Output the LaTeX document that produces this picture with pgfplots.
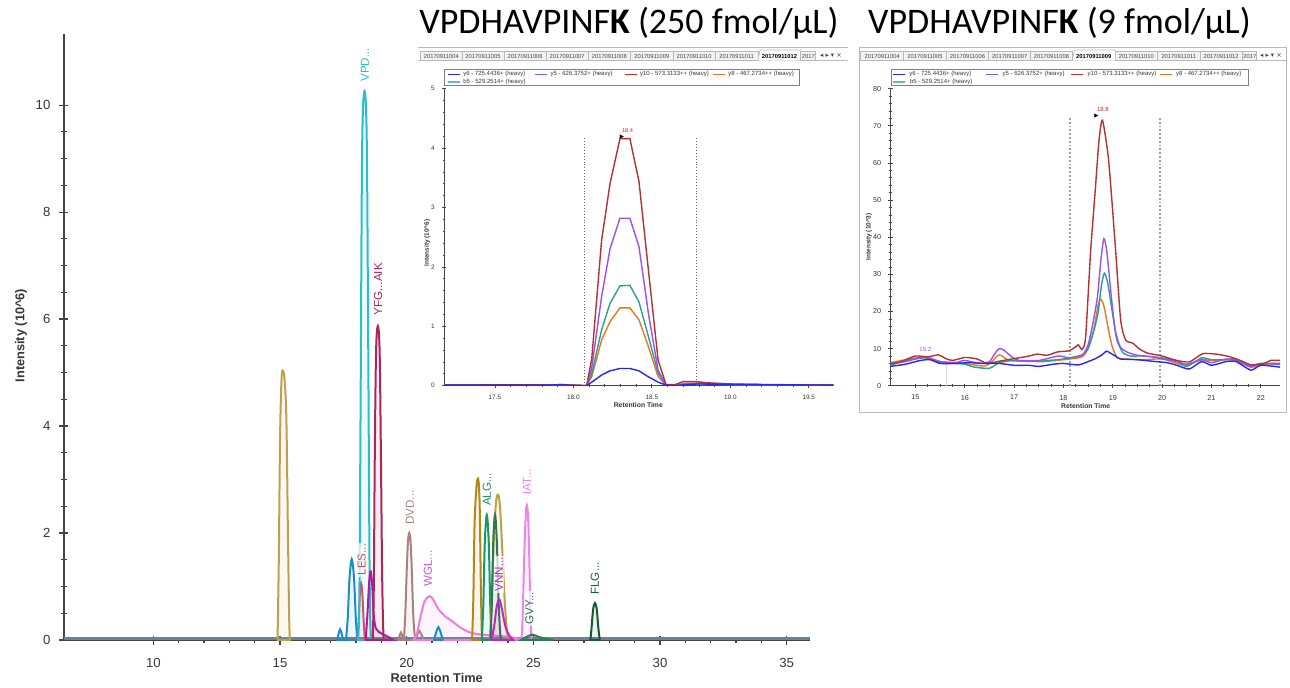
\documentclass[border=0pt]{standalone}
\usepackage{fontspec}
\setmainfont{Liberation Sans}
\newfontfamily\titlefont{Carlito}
\newfontfamily\symfont{DejaVu Sans}
\usepackage{pgfplots}
\pgfplotsset{compat=1.18}

\newcommand{\fs}[1]{\fontsize{#1}{#1}\selectfont}

% main chart colours
\definecolor{axisgray}{RGB}{70,70,70}
\definecolor{labelgray}{RGB}{55,55,55}
\definecolor{basecol}{RGB}{110,130,150}
\definecolor{cVPD}{RGB}{40,190,205}
\definecolor{cYFG}{RGB}{168,40,90}
\definecolor{cLES}{RGB}{210,80,90}
\definecolor{cMag}{RGB}{180,24,158}
\definecolor{cBlue}{RGB}{30,140,200}
\definecolor{cDVD}{RGB}{168,130,130}
\definecolor{cWGL}{RGB}{245,122,223}
\definecolor{cWGLt}{RGB}{210,90,192}
\definecolor{cGold}{RGB}{190,160,80}
\definecolor{cGold2}{RGB}{184,134,20}
\definecolor{cALG}{RGB}{30,150,100}
\definecolor{cGreen}{RGB}{45,120,80}
\definecolor{cKhaki}{RGB}{190,160,70}
\definecolor{cVNN}{RGB}{190,40,190}
\definecolor{cIAT}{RGB}{238,130,238}
\definecolor{cGVY}{RGB}{46,125,79}
\definecolor{cFLG}{RGB}{20,90,50}
% inset colours
\definecolor{iBlue}{RGB}{40,40,240}
\definecolor{iPurple}{RGB}{155,80,240}
\definecolor{iRed}{RGB}{180,50,50}
\definecolor{iOrange}{RGB}{230,120,40}
\definecolor{iTeal}{RGB}{40,160,150}
\definecolor{tabline}{RGB}{185,185,185}
\definecolor{tabfill}{RGB}{242,242,242}
\definecolor{tabtext}{RGB}{70,70,70}

\tikzset{
  lab/.style={rotate=90, anchor=west, font=\fs{5.8}, text=#1, inner sep=0.6pt,
    fill=white, fill opacity=0.7, text opacity=1},
}
\pgfplotsset{
  pk/.style={draw=#1, fill=#1, fill opacity=0.08, line width=1.0pt, smooth, tension=0.55},
  inset/.style={
    anchor=south west, scale only axis,
    axis x line=bottom, axis y line=left,
    axis line style={-, draw=axisgray, line width=0.45pt},
    tick align=center, major tick length=2.2pt, minor tick length=1.3pt,
    tick style={axisgray, line width=0.35pt},
    /pgf/number format/assume math mode=true,
    clip mode=individual,
  },
}

\begin{document}
\begin{tikzpicture}[x=0.5pt,y=-0.5pt]
\path[use as bounding box] (0,0) rectangle (1290,687);

% ---------------- main chromatogram ----------------
\begin{axis}[
  at={(32pt,-320pt)}, anchor=south west, scale only axis,
  width=373pt, height=303pt,
  xmin=6.47, xmax=35.92, ymin=0, ymax=11.33,
  axis x line=bottom, axis y line=left,
  axis line style={-, draw=axisgray, line width=0.7pt},
  xtick={10,15,...,35}, ytick={0,2,...,10},
  minor x tick num=4, minor y tick num=3,
  tick align=center, major tick length=4.5pt, minor tick length=3pt,
  tick style={axisgray, line width=0.6pt},
  tick label style={font=\fs{6.6}, text=labelgray},
  xticklabel style={yshift=-3.5pt},
  yticklabel style={xshift=-1pt},
  /pgf/number format/assume math mode=true,
  clip mode=individual,
]
\addplot[basecol, line width=1.4pt] coordinates {(6.47,0.03) (35.92,0.03)};

\addplot[pk=cGold] coordinates {(14.90,0) (14.95,1.5) (15.0,3.8) (15.06,4.9) (15.12,5.03) (15.18,4.85) (15.25,4.1) (15.31,2.0) (15.36,0.4) (15.39,0)} \closedcycle;
\addplot[pk=cBlue] coordinates {(17.25,0) (17.31,0.12) (17.37,0.2) (17.43,0.12) (17.49,0)} \closedcycle;
\addplot[pk=cBlue] coordinates {(17.6,0) (17.67,0.4) (17.74,1.15) (17.83,1.51) (17.92,1.15) (17.99,0.4) (18.05,0)} \closedcycle;
\addplot[pk=cLES] coordinates {(18.05,0) (18.1,0.35) (18.15,0.85) (18.2,1.06) (18.25,0.85) (18.3,0.35) (18.35,0)} \closedcycle;
\addplot[pk=cVPD] coordinates {(18.08,0) (18.13,0.8) (18.18,4.5) (18.24,9.2) (18.33,10.26) (18.42,9.4) (18.48,5.5) (18.53,1.5) (18.57,0.2) (18.62,0)} \closedcycle;
\addplot[pk=cMag] coordinates {(18.38,0) (18.45,0.5) (18.52,1.1) (18.58,1.28) (18.64,1.0) (18.7,0.45) (18.78,0.22) (18.9,0.15) (19.1,0.1) (19.3,0.05) (19.45,0)} \closedcycle;
\addplot[pk=cYFG] coordinates {(18.66,0) (18.7,1.0) (18.74,3.5) (18.79,5.4) (18.86,5.87) (18.93,5.4) (18.98,3.5) (19.03,1.2) (19.08,0.1) (19.12,0)} \closedcycle;
\addplot[pk=cDVD] coordinates {(19.65,0) (19.72,0.08) (19.77,0.14) (19.82,0.08) (19.88,0) (19.94,0.45) (20.0,1.3) (20.05,1.85) (20.1,2.0) (20.15,1.85) (20.2,1.3) (20.26,0.45) (20.33,0.05) (20.42,0.1) (20.5,0.17) (20.58,0.1) (20.68,0)} \closedcycle;
\addplot[pk=cWGL] coordinates {(20.25,0) (20.4,0.12) (20.55,0.45) (20.7,0.72) (20.9,0.82) (21.05,0.75) (21.25,0.58) (21.5,0.45) (21.8,0.35) (22.1,0.24) (22.5,0.14) (23.0,0.1) (23.5,0.08) (24.0,0.06) (24.4,0.03) (24.6,0)} \closedcycle;
\addplot[pk=cBlue] coordinates {(21.08,0) (21.16,0.14) (21.25,0.24) (21.34,0.14) (21.42,0)} \closedcycle;
\addplot[pk=cGold2] coordinates {(22.58,0) (22.63,0.8) (22.68,2.2) (22.76,2.9) (22.83,2.99) (22.88,2.5) (22.92,1.2) (22.96,0.2) (22.99,0)} \closedcycle;
\addplot[pk=cALG] coordinates {(22.96,0) (23.02,0.6) (23.08,1.8) (23.16,2.34) (23.24,1.8) (23.3,0.6) (23.36,0)} \closedcycle;
\addplot[pk=cKhaki] coordinates {(23.28,0) (23.35,0.6) (23.43,1.8) (23.52,2.55) (23.6,2.72) (23.68,2.5) (23.77,1.7) (23.86,0.8) (23.95,0.2) (24.02,0)} \closedcycle;
\addplot[pk=cGreen] coordinates {(23.3,0) (23.36,0.7) (23.42,1.9) (23.49,2.34) (23.56,1.8) (23.62,0.8) (23.68,0.2) (23.72,0)} \closedcycle;
\addplot[pk=cVNN] coordinates {(23.35,0) (23.45,0.25) (23.55,0.62) (23.65,0.76) (23.75,0.6) (23.85,0.35) (23.95,0.17) (24.1,0.05) (24.2,0)} \closedcycle;
\addplot[pk=cIAT] coordinates {(24.53,0) (24.58,0.5) (24.64,1.6) (24.7,2.35) (24.74,2.52) (24.79,2.3) (24.84,1.5) (24.88,0.5) (24.92,0)} \closedcycle;
\addplot[pk=cGVY] coordinates {(24.5,0) (24.7,0.05) (24.95,0.1) (25.2,0.06) (25.5,0.02) (25.8,0)} \closedcycle;
\addplot[pk=cFLG] coordinates {(27.25,0) (27.3,0.25) (27.36,0.58) (27.43,0.69) (27.5,0.58) (27.56,0.25) (27.62,0)} \closedcycle;

\node[lab=cVPD] at (axis cs:18.35,10.41) {VPD...};
\node[lab=cYFG] at (axis cs:18.87,6.04) {YFG...AIK};
\node[lab=cLES] at (axis cs:18.22,1.18) {LES...};
\node[lab=cDVD] at (axis cs:20.12,2.13) {DVD...};
\node[lab=cWGLt] at (axis cs:20.83,0.97) {WGL...};
\node[lab=cALG] at (axis cs:23.16,2.48) {ALG...};
\node[lab=cVNN] at (axis cs:23.64,0.88) {VNN...};
\node[lab=cIAT] at (axis cs:24.74,2.69) {IAT...};
\node[lab=cGVY] at (axis cs:24.84,0.26) {GVY...};
\node[lab=cFLG] at (axis cs:27.43,0.82) {FLG...};
\end{axis}

\node[rotate=90, font=\bfseries\fs{6.4}, text=labelgray] at (21,335.5) {Intensity (10\textasciicircum 6)};
\node[font=\bfseries\fs{6.4}, text=labelgray] at (436.7,678.3) {Retention Time};

% ---------------- titles ----------------
\node[anchor=base, font=\titlefont\fs{18}] at (629,33.5) {VPDHAVPINF\textbf{K} (250 fmol/µL)};
\node[anchor=base, font=\titlefont\fs{18}] at (1059.5,33.5) {VPDHAVPINF\textbf{K} (9 fmol/µL)};

% ---------------- inset 1 panel ----------------
\fill[white] (418,45) rectangle (848,420);
\draw[tabline, line width=0.4pt] (418,47.3) -- (848,47.3);
\draw[tabline, line width=0.4pt] (418,60.7) -- (848,60.7);
\foreach \a/\b/\lab in {420.7/462/004, 462/504/005, 504/546.3/006, 546.3/588/007,
    588/630.7/008, 630.7/673/009, 673/715.3/010, 715.3/758/011} {
  \draw[tabline, fill=tabfill, line width=0.3pt] (\a,51) rectangle (\b,60.7);
  \node[font=\fs{2.9}, text=tabtext, inner sep=0pt] at ({(\a+\b)/2},56) {20170911\lab};
}
\draw[tabline, fill=white, line width=0.3pt] (758,60.7) -- (760,50) -- (800.3,50) -- (800.3,60.7);
\node[font=\bfseries\fs{2.9}, inner sep=0pt] at (779.5,56) {20170911012};
\draw[tabline, fill=tabfill, line width=0.3pt] (800.3,51) rectangle (815,60.7);
\node[font=\fs{2.9}, text=tabtext, inner sep=0pt, anchor=west] at (801.5,56) {2017};
\node[font=\symfont\fs{3.3}, text=tabtext, inner sep=0pt] at (831,55.5) {◂ ▸ ▾ ×};
% legend
\draw[gray, line width=0.4pt, fill=white] (444.7,69.3) rectangle (799.7,85.7);
\foreach \xa/\col/\txt in {448/iBlue/{y6 - 725.4436+ (heavy)}, 535.3/iPurple/{y5 - 626.3752+ (heavy)},
    624.7/iRed/{y10 - 573.3133++ (heavy)}, 713/iOrange/{y8 - 467.2734++ (heavy)}} {
  \draw[\col, line width=0.8pt] (\xa,74.3) -- ++(12,0);
  \node[font=\fs{3}, anchor=west, inner sep=0pt, text=labelgray] at ({\xa+15},74.3) {\txt};
}
\draw[iTeal!70, line width=0.8pt] (448,81.7) -- ++(12,0);
\node[font=\fs{3}, anchor=west, inner sep=0pt, text=labelgray] at (463,81.7) {b5 - 529.2514+ (heavy)};

\begin{axis}[inset,
  at={(222pt,-192.85pt)}, width=194.65pt, height=148.5pt,
  xmin=17.176, xmax=19.656, ymin=0, ymax=5,
  xtick={17.5,18,...,19.5}, ytick={0,1,...,5},
  minor x tick num=4, minor y tick num=4,
  tick label style={font=\fs{3.2}, text=labelgray},
  xticklabel style={/pgf/number format/.cd, fixed, fixed zerofill, precision=1},
]
\addplot[gray!80!black, densely dotted, line width=0.45pt] coordinates {(18.07,0) (18.07,4.17)};
\addplot[gray!80!black, densely dotted, line width=0.45pt] coordinates {(18.785,0) (18.785,4.17)};
\addplot[iOrange, line width=0.7pt] coordinates {(17.176,0.01) (17.6,0.01) (18.0,0.01) (18.085,0) (18.117,0.15) (18.18,0.77) (18.234,1.08) (18.297,1.31) (18.36,1.31) (18.418,1.11) (18.478,0.66) (18.54,0.15) (18.59,0.01) (18.65,0.01) (18.72,0.04) (18.8,0.04) (19.0,0.02) (19.656,0.01)};
\addplot[iTeal, line width=0.7pt] coordinates {(17.176,0.01) (17.85,0.01) (17.92,0.02) (18.0,0.01) (18.085,0) (18.117,0.2) (18.18,0.94) (18.234,1.39) (18.297,1.68) (18.36,1.69) (18.418,1.41) (18.478,0.83) (18.54,0.21) (18.59,0.01) (18.65,0.01) (18.72,0.03) (18.8,0.03) (19.0,0.02) (19.656,0.01)};
\addplot[iPurple, line width=0.7pt] coordinates {(17.176,0.01) (18.0,0.01) (18.085,0) (18.117,0.3) (18.18,1.5) (18.234,2.31) (18.297,2.82) (18.36,2.82) (18.418,2.34) (18.478,1.22) (18.54,0.26) (18.59,0.01) (18.65,0.01) (18.72,0.03) (18.8,0.04) (19.0,0.02) (19.656,0.01)};
\addplot[iRed, line width=0.7pt] coordinates {(17.176,0.01) (17.6,0.015) (18.0,0.01) (18.085,0) (18.117,0.45) (18.18,2.45) (18.234,3.41) (18.297,4.16) (18.36,4.16) (18.418,3.44) (18.478,1.95) (18.54,0.43) (18.59,0.02) (18.65,0.02) (18.7,0.07) (18.78,0.07) (18.85,0.05) (19.0,0.03) (19.2,0.02) (19.656,0.01)};
\addplot[iBlue, line width=0.7pt] coordinates {(17.176,0.01) (17.85,0.01) (17.93,0.02) (18.0,0) (18.085,0) (18.117,0.06) (18.18,0.18) (18.234,0.25) (18.297,0.29) (18.36,0.29) (18.418,0.25) (18.478,0.15) (18.54,0.06) (18.59,0.01) (18.65,0) (18.72,0.02) (18.8,0.03) (19.0,0.02) (19.656,0.01)};
\node[font=\fs{2.8}, text=iRed, inner sep=0pt] at (axis cs:18.345,4.3) {18.4};
\node[font=\symfont\fs{2.8}, inner sep=0pt] at (axis cs:18.31,4.19) {▶};
\end{axis}
\node[rotate=90, font=\bfseries\fs{3.2}, text=labelgray] at (427.3,243) {Intensity (10\textasciicircum 6)};
\node[font=\bfseries\fs{3.4}, text=labelgray] at (638.3,405) {Retention Time};

% ---------------- inset 2 panel ----------------
\draw[tabline, fill=white, line width=0.5pt] (859.5,47.3) rectangle (1286,412.3);
\draw[tabline, line width=0.4pt] (859.5,60.7) -- (1286,60.7);
\foreach \a/\b/\lab in {860.7/903.7/004, 903.7/946.3/005, 946.3/988.7/006, 988.7/1030.7/007,
    1030.7/1072.3/008, 1115.3/1157.3/010, 1157.3/1200.3/011, 1200.3/1242/012} {
  \draw[tabline, fill=tabfill, line width=0.3pt] (\a,51) rectangle (\b,60.7);
  \node[font=\fs{2.9}, text=tabtext, inner sep=0pt] at ({(\a+\b)/2},56) {20170911\lab};
}
\draw[tabline, fill=white, line width=0.3pt] (1072.3,60.7) -- (1074.3,50) -- (1115.3,50) -- (1115.3,60.7);
\node[font=\bfseries\fs{2.9}, inner sep=0pt] at (1093.8,56) {20170911009};
\draw[tabline, fill=tabfill, line width=0.3pt] (1242,51) rectangle (1256.3,60.7);
\node[font=\fs{2.9}, text=tabtext, inner sep=0pt, anchor=west] at (1243,56) {2017};
\node[font=\symfont\fs{3.3}, text=tabtext, inner sep=0pt] at (1271,55.5) {◂ ▸ ▾ ×};
\draw[gray, line width=0.4pt, fill=white] (891.3,69.3) rectangle (1248,85.7);
\foreach \xa/\col/\txt in {893/iBlue/{y6 - 725.4436+ (heavy)}, 986.3/iPurple/{y5 - 626.3752+ (heavy)},
    1071.3/iRed/{y10 - 573.3133++ (heavy)}, 1159.7/iOrange/{y8 - 467.2734++ (heavy)}} {
  \draw[\col, line width=0.8pt] (\xa,74.3) -- ++(12,0);
  \node[font=\fs{3}, anchor=west, inner sep=0pt, text=labelgray] at ({\xa+16},74.3) {\txt};
}
\draw[iTeal!70, line width=0.8pt] (893,81.7) -- ++(12,0);
\node[font=\fs{3}, anchor=west, inner sep=0pt, text=labelgray] at (909.7,81.7) {b5 - 529.2514+ (heavy)};

\begin{axis}[inset,
  at={(445.15pt,-192.85pt)}, width=194.85pt, height=148.55pt,
  xmin=14.49, xmax=22.39, ymin=0, ymax=80,
  xtick={15,16,...,22}, ytick={0,10,...,80},
  minor x tick num=3, minor y tick num=4,
  tick label style={font=\fs{3.6}, text=labelgray},
]
\addplot[gray!75, densely dotted, line width=0.9pt] coordinates {(18.13,0) (18.13,72.4)};
\addplot[gray!75, densely dotted, line width=0.9pt] coordinates {(19.95,0) (19.95,72.4)};
\addplot[gray!30, line width=0.4pt] coordinates {(15.62,0) (15.62,6.5)};
\addplot[iOrange, line width=0.7pt, smooth, tension=0.4] coordinates {(14.49,6.2) (14.8,7.0) (15.2,7.8) (15.5,6.5) (15.8,6.2) (16.1,5.8) (16.4,5.3) (16.55,6.5) (16.7,8.3) (16.9,6.8) (17.2,6.6) (17.6,6.5) (18.0,7.0) (18.3,7.5) (18.4,8.0) (18.5,10) (18.62,15.5) (18.7,21.5) (18.75,23.3) (18.82,21.5) (18.92,14.5) (19.0,10) (19.1,7.5) (19.25,7.2) (19.6,7.0) (20.0,7.2) (20.3,6.0) (20.5,5.5) (20.8,7.0) (21.0,6.8) (21.3,7.0) (21.5,7.2) (21.8,5.2) (22.0,5.8) (22.39,6.0)};
\addplot[iTeal, line width=0.7pt, smooth, tension=0.4] coordinates {(14.49,5.5) (14.8,6.8) (15.2,7.5) (15.5,6.2) (15.8,6.0) (16.0,5.8) (16.2,5.0) (16.5,4.7) (16.7,6.2) (17.0,6.8) (17.5,6.6) (18.0,7.2) (18.3,8.0) (18.4,8.5) (18.5,10) (18.6,14) (18.7,19.5) (18.77,27) (18.83,30.3) (18.9,27.5) (19.0,19) (19.08,12.5) (19.2,9) (19.35,8) (19.6,8) (20.0,7.5) (20.3,6.5) (20.5,5.2) (20.8,7.5) (21.0,7.0) (21.3,7.0) (21.5,7.0) (21.8,5.5) (22.0,6.0) (22.39,6.0)};
\addplot[iPurple, line width=0.7pt, smooth, tension=0.4] coordinates {(14.49,6.0) (14.8,6.5) (15.0,7.2) (15.2,7.6) (15.5,6.5) (15.8,6.2) (16.0,6.8) (16.3,6.0) (16.5,6.5) (16.6,8.5) (16.7,10) (16.8,9.5) (16.95,7.8) (17.1,6.8) (17.5,6.8) (17.9,8.0) (18.1,7.5) (18.3,7.8) (18.4,8.5) (18.5,11) (18.6,17) (18.69,24) (18.76,34) (18.82,39.6) (18.88,36) (18.97,24) (19.05,15) (19.15,10.5) (19.3,9) (19.5,8.2) (19.8,7.8) (20.0,7.2) (20.3,6.5) (20.5,5.8) (20.8,7.0) (21.0,6.2) (21.3,7.2) (21.5,6.8) (21.8,5.0) (22.0,5.8) (22.39,5.8)};
\addplot[iRed, line width=0.7pt, smooth, tension=0.4] coordinates {(14.49,6.0) (14.65,6.2) (14.8,7.0) (15.0,8.0) (15.25,7.8) (15.47,8.3) (15.6,7.4) (15.75,6.8) (16.0,7.6) (16.25,7.2) (16.45,6.0) (16.7,6.6) (17.0,7.3) (17.27,7.9) (17.47,8.5) (17.67,8.2) (17.88,9.1) (18.11,9.4) (18.25,10.5) (18.3,11) (18.38,9.8) (18.45,13.2) (18.55,36) (18.65,53.6) (18.72,66) (18.79,71.5) (18.9,62.6) (18.96,53.6) (19.06,36) (19.16,17.7) (19.26,12.3) (19.4,11.5) (19.55,9.8) (19.7,8.8) (19.85,8.4) (20.0,8.0) (20.27,6.9) (20.55,6.4) (20.82,8.6) (21.1,8.5) (21.37,7.8) (21.64,6.5) (21.8,5.6) (22.07,6.0) (22.2,6.8) (22.39,6.8)};
\addplot[iBlue, line width=0.7pt, smooth, tension=0.4] coordinates {(14.49,5.2) (14.8,5.8) (15.1,6.8) (15.3,7.0) (15.5,6.0) (15.8,6.0) (16.1,6.2) (16.4,6.0) (16.7,6.0) (17.0,5.5) (17.3,5.5) (17.5,5.2) (17.8,5.8) (18.0,6.0) (18.3,5.6) (18.5,6.5) (18.65,7.3) (18.78,8.3) (18.87,9.3) (18.95,8.8) (19.05,8.0) (19.15,7.2) (19.3,7.1) (19.5,7.0) (19.8,6.6) (20.1,6.2) (20.3,5.5) (20.55,4.5) (20.8,6.5) (21.0,5.5) (21.3,6.5) (21.5,6.5) (21.8,4.2) (22.0,5.5) (22.39,5.0)};
\node[font=\fs{3}, text=iRed, inner sep=0pt] at (axis cs:18.8,74.5) {18.8};
\node[font=\symfont\fs{2.8}, inner sep=0pt] at (axis cs:18.67,72.6) {▶};
\node[font=\fs{3}, text=iPurple, inner sep=0pt] at (axis cs:15.2,9.8) {15.2};
\end{axis}
\node[rotate=90, font=\bfseries\fs{3.2}, text=labelgray] at (869,236.7) {Intensity (10\textasciicircum 3)};
\node[font=\bfseries\fs{3.4}, text=labelgray] at (1085.7,405.7) {Retention Time};
\end{tikzpicture}
\end{document}
